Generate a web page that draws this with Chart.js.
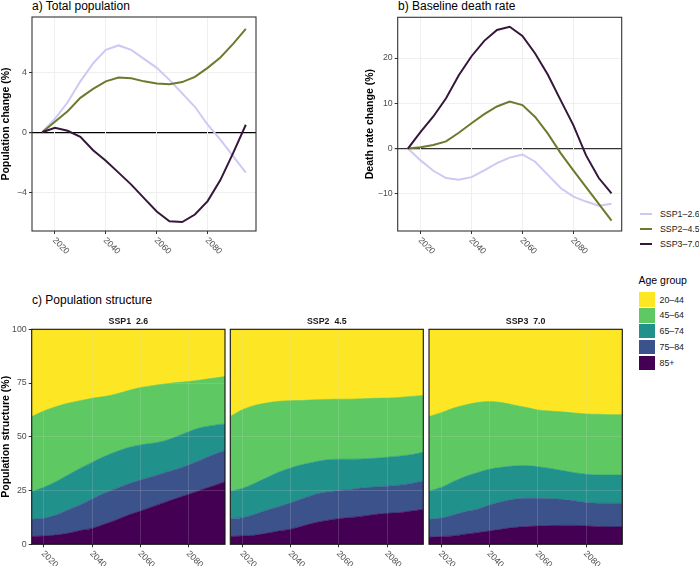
<!DOCTYPE html>
<html>
<head>
<meta charset="utf-8">
<script src="https://cdn.jsdelivr.net/npm/chart.js@4.4.1/dist/chart.umd.min.js"></script>
<style>
  body { margin: 0; background: #fff; }
  #page { position: relative; width: 699px; height: 566px; overflow: hidden;
          font-family: 'Liberation Sans', Arial, sans-serif; }
  canvas { position: absolute; }
  .ttl { position: absolute; font-size: 12px; line-height: 12px; color: #000; white-space: nowrap; }
  .lg  { position: absolute; font-size: 8.8px; line-height: 12px; color: #1a1a1a; white-space: nowrap; }
  .key { position: absolute; }
</style>
</head>
<body>
<div id="page">
  <div class="ttl" style="left:32px;top:0">a) Total population</div>
  <div class="ttl" style="left:398px;top:0">b) Baseline death rate</div>
  <div class="ttl" style="left:32px;top:294px">c) Population structure</div>

  <canvas id="cA" width="290" height="275" style="left:0;top:0"></canvas>
  <canvas id="cB" width="270" height="275" style="left:360px;top:0"></canvas>
  <canvas id="c1" width="228" height="256" style="left:0;top:310px"></canvas>
  <canvas id="c2" width="198" height="256" style="left:228px;top:310px"></canvas>
  <canvas id="c3" width="200" height="256" style="left:426px;top:310px"></canvas>
  <div id="legends"></div>
</div>

<script>
const FONT = "'Liberation Sans', Arial, sans-serif";
Chart.defaults.font.family = FONT;
Chart.defaults.color = '#4d4d4d';

/* ─── Data ─── */
const years = [2015, 2020, 2025, 2030, 2035, 2040, 2045, 2050, 2055,
               2060, 2065, 2070, 2075, 2080, 2085, 2090, 2095];
const xTicks = [2020, 2040, 2060, 2080];

const scenarios = ['SSP1–2.6', 'SSP2–4.5', 'SSP3–7.0'];
const scenarioColors = ['#cdc9f3', '#6b7b2e', '#36173c'];

// a) total population change (%)
const popSsp1 = [0, 0.9, 2.0, 3.4, 4.6, 5.5, 5.8, 5.5, 4.9, 4.3, 3.5, 2.6, 1.7, 0.5, -0.5, -1.6, -2.7];
const popSsp2 = [0, 0.7, 1.4, 2.3, 2.9, 3.4, 3.65, 3.6, 3.4, 3.25, 3.2, 3.35, 3.7, 4.3, 5.0, 5.9, 6.9];
const popSsp3 = [0, 0.3, 0.1, -0.3, -1.2, -1.9, -2.7, -3.5, -4.4, -5.3, -5.95, -6.0, -5.5, -4.6, -3.2, -1.4, 0.5];
const popTicks = [-4, 0, 4];

// b) baseline death rate change (%)
const deathSsp1 = [0, -2.6, -4.9, -6.5, -6.9, -6.3, -4.8, -3.2, -2.0, -1.3, -2.9, -5.8, -8.7, -10.6, -11.7, -12.6, -12.2];
const deathSsp2 = [0, 0.3, 0.8, 1.6, 3.5, 5.6, 7.6, 9.3, 10.4, 9.6, 7.0, 3.3, -1.0, -4.8, -8.5, -12.2, -15.9];
const deathSsp3 = [0, 3.7, 7.1, 11.1, 16.2, 20.4, 23.8, 26.2, 26.9, 24.9, 21.0, 16.3, 10.7, 5.2, -1.5, -6.5, -9.9];
const deathTicks = [-10, 0, 10, 20];

// c) population structure: upper edge of each stacked band (%)
const ageGroups = ['20–44', '45–64', '65–74', '75–84', '85+'];
const ageColors = ['#fde725', '#5ec962', '#21918c', '#3b528b', '#440154'];
const structTicks = [0, 25, 50, 75, 100];

const ssp1Top85 = [3.6, 3.9, 4.3, 5.1, 6.4, 7.4, 9.3, 11.3, 13.6, 15.5, 17.5, 19.5, 21.4, 23.3, 25.3, 27.1, 29.1];
const ssp1Top75 = [11.6, 12.1, 13.6, 16.0, 18.3, 21.1, 23.7, 26.0, 28.1, 29.9, 31.5, 33.3, 34.9, 36.9, 39.2, 41.6, 43.6];
const ssp1Top65 = [24.5, 26.5, 29.1, 32.2, 35.3, 38.1, 40.8, 43.1, 45.0, 46.2, 47.0, 48.1, 50.1, 52.4, 54.3, 55.3, 56.0];
const ssp1Top45 = [59.4, 62.0, 64.0, 65.6, 66.8, 67.9, 68.7, 69.9, 71.5, 72.9, 73.8, 74.6, 75.2, 75.7, 76.4, 77.2, 78.0];

const ssp2Top85 = [3.6, 3.9, 4.2, 5.1, 6.2, 7.0, 8.5, 10.0, 11.1, 11.9, 12.5, 13.1, 13.9, 14.4, 14.7, 15.5, 16.2];
const ssp2Top75 = [11.9, 12.4, 13.9, 15.8, 17.5, 19.3, 21.3, 23.2, 24.3, 25.0, 25.5, 26.3, 26.6, 27.0, 27.5, 28.3, 29.4];
const ssp2Top65 = [24.7, 26.0, 28.3, 30.9, 33.5, 35.5, 37.1, 38.3, 39.3, 39.6, 39.6, 39.7, 40.0, 40.5, 41.0, 41.7, 42.8];
const ssp2Top45 = [59.5, 62.6, 64.6, 65.7, 66.5, 66.8, 66.9, 67.2, 67.4, 67.5, 67.5, 67.7, 67.9, 68.0, 68.3, 68.8, 69.2];

const ssp3Top85 = [3.3, 3.6, 3.9, 4.7, 5.4, 6.2, 7.0, 7.8, 8.2, 8.5, 8.7, 8.8, 8.8, 8.5, 8.2, 8.1, 8.1];
const ssp3Top75 = [11.6, 12.2, 13.6, 15.2, 16.3, 18.3, 19.8, 20.9, 21.4, 21.4, 21.2, 20.9, 20.3, 19.4, 19.1, 19.1, 19.1];
const ssp3Top65 = [24.8, 26.4, 29.1, 31.5, 33.3, 34.9, 35.8, 36.4, 36.6, 36.1, 35.3, 34.3, 33.3, 32.6, 32.2, 32.2, 32.2];
const ssp3Top45 = [59.4, 61.2, 63.3, 64.8, 65.9, 66.4, 65.9, 64.8, 63.7, 62.5, 62.0, 61.6, 61.1, 60.6, 60.5, 60.3, 60.3];

/* ─── Helpers ─── */
const fmtMinus = v => (v < 0 ? '−' + Math.abs(v) : String(v));
const toPoints = vals => years.map((yr, i) => ({ x: yr, y: vals[i] }));

// panel border, rotated x labels, facet strip
const panelDecor = {
    id: 'panelDecor',
    afterDraw(chart, args, opts) {
        const { ctx, chartArea: a } = chart;
        const xs = chart.scales.x;
        ctx.save();
        ctx.strokeStyle = opts.border || '#333';
        ctx.lineWidth = 1.1;
        ctx.strokeRect(a.left, a.top, a.right - a.left, a.bottom - a.top);

        ctx.fillStyle = '#4d4d4d';
        ctx.font = '8.8px ' + FONT;
        ctx.textAlign = 'left';
        ctx.textBaseline = 'middle';
        xs.ticks.forEach(t => {
            const px = xs.getPixelForValue(t.value);
            ctx.save();
            ctx.translate(px - 1, a.bottom + 8);
            ctx.rotate(Math.PI / 4);
            ctx.fillText(String(t.value), 0, 0);
            ctx.restore();
        });

        if (opts.strip) {
            ctx.font = 'bold 8.8px ' + FONT;
            ctx.fillStyle = '#1a1a1a';
            ctx.textAlign = 'center';
            ctx.fillText(opts.strip, (a.left + a.right) / 2, a.top - 7.5);
        }
        ctx.restore();
    }
};

function xAxis(min, max, height, gridColor, gridZ) {
    return {
        type: 'linear', min, max,
        afterBuildTicks: s => { s.ticks = xTicks.map(v => ({ value: v })); },
        afterFit: s => { s.height = height; },
        ticks: { display: false },
        grid: { color: gridColor, z: gridZ, tickColor: '#333', tickLength: 3 },
        border: { display: false }
    };
}

function lineSets(series) {
    return series.map((vals, i) => ({
        label: scenarios[i],
        data: toPoints(vals),
        borderColor: scenarioColors[i],
        borderWidth: 2,
        pointRadius: 0,
        tension: 0,
        fill: false,
        order: 2 - i
    }));
}

function lineChart(id, series, cfg) {
    return new Chart(document.getElementById(id), {
        type: 'line',
        data: { datasets: lineSets(series) },
        options: {
            responsive: false,
            animation: false,
            layout: { padding: cfg.padding },
            plugins: { legend: { display: false }, tooltip: { enabled: false }, panelDecor: { border: '#333' } },
            scales: {
                x: xAxis(2011, 2099, 44, '#efefef', 0),
                y: {
                    min: cfg.min, max: cfg.max,
                    afterBuildTicks: s => { s.ticks = cfg.ticks.map(v => ({ value: v })); },
                    afterFit: s => { s.width = cfg.axisWidth; },
                    ticks: { color: '#4d4d4d', font: { size: 8.8 }, padding: 2, callback: fmtMinus },
                    grid: {
                        color: c => (c.tick && c.tick.value === 0 ? cfg.zeroColor : '#efefef'),
                        lineWidth: c => (c.tick && c.tick.value === 0 ? 1.2 : 1),
                        tickColor: '#333', tickLength: 3
                    },
                    border: { display: false },
                    title: { display: true, text: cfg.title, color: '#000',
                             font: { size: 10.5, weight: 'bold' }, padding: 0 }
                }
            }
        },
        plugins: [panelDecor]
    });
}

function areaSets(top85, top75, top65, top45) {
    const bounds = [top85, top75, top65, top45];
    const sets = bounds.map((vals, i) => ({
        label: ageGroups[4 - i],
        data: toPoints(vals),
        backgroundColor: ageColors[4 - i],
        borderColor: ageColors[4 - i],
        borderWidth: 0.6,
        pointRadius: 0,
        cubicInterpolationMode: 'monotone',
        fill: i === 0 ? 'origin' : '-1'
    }));
    sets.push({
        label: ageGroups[0],
        data: toPoints(top45),
        backgroundColor: ageColors[0],
        borderColor: ageColors[0],
        borderWidth: 0.6,
        pointRadius: 0,
        cubicInterpolationMode: 'monotone',
        fill: 'end'
    });
    return sets;
}

function facetChart(id, strip, sets, cfg) {
    const gridC = 'rgba(220,220,220,0.18)';
    return new Chart(document.getElementById(id), {
        type: 'line',
        data: { datasets: sets },
        options: {
            responsive: false,
            animation: false,
            layout: { padding: cfg.padding },
            plugins: { legend: { display: false }, tooltip: { enabled: false },
                       panelDecor: { border: '#111', strip: strip } },
            scales: {
                x: xAxis(2015, 2095, 21.7, gridC, 1),
                y: {
                    min: 0, max: 100,
                    afterBuildTicks: s => { s.ticks = structTicks.map(v => ({ value: v })); },
                    afterFit: s => { s.width = cfg.axisWidth; },
                    ticks: { display: cfg.showAxis, color: '#4d4d4d', font: { size: 8.8 }, padding: 2 },
                    grid: { color: gridC, z: 1, tickColor: '#333', tickLength: 3, drawTicks: cfg.showAxis },
                    border: { display: false },
                    title: { display: cfg.showAxis, text: 'Population structure (%)', color: '#000',
                             font: { size: 10.5, weight: 'bold' }, padding: 0 }
                }
            }
        },
        plugins: [panelDecor]
    });
}

/* ─── Charts ─── */
lineChart('cA', [popSsp1, popSsp2, popSsp3], {
    padding: { left: 0, top: 17, right: 34, bottom: 0 },
    axisWidth: 32, min: -6.6, max: 7.7, ticks: popTicks,
    zeroColor: '#000', title: 'Population change (%)'
});

lineChart('cB', [deathSsp1, deathSsp2, deathSsp3], {
    padding: { left: 4, top: 17.3, right: 8.3, bottom: 0 },
    axisWidth: 33.7, min: -18.2, max: 29.0, ticks: deathTicks,
    zeroColor: '#333', title: 'Death rate change (%)'
});

facetChart('c1', 'SSP1  2.6', areaSets(ssp1Top85, ssp1Top75, ssp1Top65, ssp1Top45),
    { padding: { left: 0, top: 19.3, right: 3, bottom: 0 }, axisWidth: 31.7, showAxis: true });
facetChart('c2', 'SSP2  4.5', areaSets(ssp2Top85, ssp2Top75, ssp2Top65, ssp2Top45),
    { padding: { left: 2.3, top: 19.3, right: 2.7, bottom: 0 }, axisWidth: 0, showAxis: false });
facetChart('c3', 'SSP3  7.0', areaSets(ssp3Top85, ssp3Top75, ssp3Top65, ssp3Top45),
    { padding: { left: 3, top: 19.3, right: 3.7, bottom: 0 }, axisWidth: 0, showAxis: false });

/* ─── Legends ─── */
const legendBox = document.getElementById('legends');
scenarios.forEach((name, i) => {
    const cy = 213.5 + i * 15.2;
    const line = document.createElement('div');
    line.className = 'key';
    line.style.cssText = `left:640px;top:${cy - 1}px;width:12px;height:2px;background:${scenarioColors[i]}`;
    const txt = document.createElement('div');
    txt.className = 'lg';
    txt.style.cssText = `left:660px;top:${cy - 6}px`;
    txt.textContent = name;
    legendBox.append(line, txt);
});

const ageTitle = document.createElement('div');
ageTitle.className = 'lg';
ageTitle.style.cssText = 'left:638.5px;top:274px;font-size:10.5px;line-height:13px;color:#000';
ageTitle.textContent = 'Age group';
legendBox.append(ageTitle);

ageGroups.forEach((name, i) => {
    const top = 292.3 + i * 15.8;
    const key = document.createElement('div');
    key.className = 'key';
    key.style.cssText = `left:639px;top:${top}px;width:15.5px;height:14.5px;background:${ageColors[i]}`;
    const txt = document.createElement('div');
    txt.className = 'lg';
    txt.style.cssText = `left:659.5px;top:${top + 1.3}px`;
    txt.textContent = name;
    legendBox.append(key, txt);
});
</script>
</body>
</html>
